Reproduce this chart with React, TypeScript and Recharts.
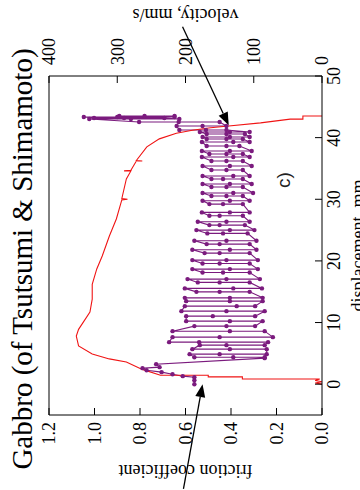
import { ComposedChart, Line, XAxis, YAxis, ReferenceLine, ReferenceDot } from "recharts";

const dispTicks = [0, 10, 20, 30, 40, 50];
const frictionTicks = [0, 0.2, 0.4, 0.6, 0.8, 1.0, 1.2];
const velocityTicks = [0, 100, 200, 300, 400];

// friction coefficient vs displacement (red)
const frictionDisp = [
  0, 0.2, 0.4, 0.6, 0.85, 0.85, 1.18, 1.18, 1.46, 1.46, 2.4, 3.6, 4.1, 4.9, 6.2, 7.8, 8.9, 11.7, 13.8,
  16.2, 18.7, 20.8, 24.0, 26.8, 29.9, 30.0, 30.1, 33.3, 34.6, 34.6, 34.7, 36.2, 36.2, 36.3, 38.5, 39.8,
  40.7, 41.2, 41.6, 41.9, 42.4, 43.0, 43.0, 43.5, 43.5,
];
const frictionValue = [
  0, 0.03, 0.0, 0.03, 0.01, 0.35, 0.35, 0.5, 0.5, 0.71, 0.79, 0.86, 0.935, 1.01, 1.07, 1.08, 1.07, 1.02,
  1.01, 1.01, 0.99, 0.966, 0.935, 0.904, 0.88, 0.855, 0.88, 0.86, 0.84, 0.87, 0.84, 0.816, 0.79, 0.816,
  0.77, 0.715, 0.64, 0.57, 0.49, 0.41, 0.27, 0.14, 0.084, 0.084, 0.0,
];

// velocity: start-up ramp
const rampDisp = [0.0, 0.65, 1.14, 1.3, 1.62, 1.95, 2.27, 2.6, 2.76, 3.25, 4.22];
const rampVel = [187, 187, 187, 204, 219, 235, 257, 263, 238, 243, 84];

// velocity steps: displacement of each jump, its upper, middle and lower velocity
const stepDisp = [
  4.38, 4.87, 5.68, 6.33, 6.82, 7.63, 8.6, 9.42, 10.23, 11.04, 11.85, 12.66, 13.47, 14.01, 14.98, 15.54,
  16.51, 17.05, 18.13, 18.67, 19.59, 20.13, 21.27, 21.8, 22.73, 23.26, 24.46, 25.0, 25.81, 26.35, 27.32,
  27.87, 29.22, 29.76, 30.52, 31.01, 31.98, 32.47, 33.28, 33.77, 34.74, 35.39, 36.2, 36.85, 37.34, 37.82,
  38.64, 39.29, 39.77, 40.1, 40.58, 40.91, 41.23, 41.88, 42.53, 43.02, 43.18, 43.34, 43.5,
];
const stepHigh = [
  187, 194, 190, 179, 224, 219, 219, 187, 199, 199, 206, 201, 199, 201, 184, 201, 182, 197, 175, 190, 175,
  190, 172, 190, 169, 187, 168, 184, 165, 182, 165, 176, 165, 175, 162, 175, 162, 175, 162, 175, 162, 175,
  162, 176, 165, 176, 169, 176, 169, 175, 169, 179, 209, 213, 268, 341, 334, 349, 297,
];
const stepMid = [
  130, 150, 135, 140, 180, 150, 135, 140, 135, 160, 140, 125, 135, 135, 150, 130, 150, 140, 145, 135, 150,
  140, 150, 135, 150, 140, 145, 135, 150, 140, 150, 135, 145, 135, 140, 130, 140, 135, 145, 130, 140, 135,
  140, 130, 140, 135, 140, 130, 140, 135, 140, 135, 170, 175, 210, 280, 290, 300, 260,
];
const stepLow = [
  84, 81, 81, 84, 79, 72, 84, 98, 87, 98, 84, 98, 87, 87, 106, 88, 106, 91, 106, 94, 106, 94, 106, 96, 106,
  96, 109, 99, 113, 106, 116, 106, 116, 106, 116, 101, 116, 103, 116, 106, 116, 103, 116, 106, 116, 103,
  121, 106, 116, 106, 113, 106, 140, 140, 150, 209, 231, 216, 216,
];

// annotation arrows (displacement, friction): tail -> tip
const arrowTail = [[58, 0.613], [-17, 0.609]];
const arrowTip = [[42.0, 0.41], [0.0, 0.525]];

const RED = "#f01414";
const PURPLE = "#7b1b7e";
const SERIF = "'Liberation Serif', 'Times New Roman', Times, 'DejaVu Serif', serif";

const frictionData = frictionDisp.map((d, i) => ({ d, f: frictionValue[i] }));

const velocityData: { d: number; v: number }[] = rampDisp.map((d, i) => ({ d, v: rampVel[i] }));
stepDisp.forEach((d, i) => {
  if (i % 2 === 0) {
    velocityData.push({ d, v: stepLow[i] }, { d, v: stepMid[i] }, { d, v: stepHigh[i] });
  } else {
    velocityData.push({ d, v: stepHigh[i] }, { d, v: stepMid[i] }, { d, v: stepLow[i] });
  }
});

function Arrow(props: any) {
  const { x1, y1, x2, y2 } = props;
  const a = Math.atan2(y2 - y1, x2 - x1);
  const bx = x2 - 13 * Math.cos(a);
  const by = y2 - 13 * Math.sin(a);
  const px = -Math.sin(a) * 5;
  const py = Math.cos(a) * 5;
  return (
    <g>
      <line x1={x1} y1={y1} x2={bx} y2={by} stroke="#000" strokeWidth={1.3} />
      <polygon points={`${x2},${y2} ${bx + px},${by + py} ${bx - px},${by - py}`} fill="#000" />
    </g>
  );
}

const titleStyle = { fontFamily: SERIF, fontSize: 18, fill: "#000" };

const frictionTitle = ({ viewBox }: any) => {
  const cx = viewBox.x + 4;
  const cy = viewBox.y + viewBox.height / 2;
  return (
    <text x={cx} y={cy} transform={`rotate(-90 ${cx} ${cy})`} textAnchor="middle" dominantBaseline="central" style={titleStyle}>
      friction coefficient
    </text>
  );
};

const velocityTitle = ({ viewBox }: any) => {
  const cx = viewBox.x + 61;
  const cy = viewBox.y + viewBox.height / 2;
  return (
    <text x={cx} y={cy} transform={`rotate(-90 ${cx} ${cy})`} textAnchor="middle" dominantBaseline="central" style={titleStyle}>
      velocity, mm/s
    </text>
  );
};

const dispTitle = ({ viewBox }: any) => (
  <text x={viewBox.x + viewBox.width / 2} y={viewBox.y + 42} textAnchor="middle" style={titleStyle}>
    displacement, mm
  </text>
);

const tickStyle = { fontSize: 18, fontFamily: SERIF, fill: "#000" };

export default function App() {
  return (
    <div style={{ position: "absolute", left: 0, top: 0, width: 360, height: 490, overflow: "hidden", background: "#fff" }}>
      <div
        style={{
          position: "absolute",
          left: 0,
          top: 0,
          width: 490,
          height: 360,
          transformOrigin: "0 0",
          transform: "translateY(490px) rotate(-90deg)",
          fontFamily: SERIF,
        }}
      >
        <ComposedChart width={490} height={360} margin={{ top: 39, right: 16, bottom: 8, left: 15 }}>
          <XAxis
            xAxisId="d"
            dataKey="d"
            type="number"
            domain={[-5, 50]}
            allowDataOverflow
            ticks={dispTicks}
            interval={0}
            height={30}
            tickSize={-7}
            tickMargin={12}
            tick={tickStyle}
            axisLine={{ stroke: "#000" }}
            tickLine={{ stroke: "#000" }}
            label={{ content: dispTitle }}
          />
          <XAxis
            xAxisId="top"
            orientation="top"
            type="number"
            domain={[-5, 50]}
            allowDataOverflow
            ticks={dispTicks}
            interval={0}
            height={10}
            tickSize={-7}
            tickFormatter={() => ""}
            axisLine={{ stroke: "#000" }}
            tickLine={{ stroke: "#000" }}
          />
          <YAxis
            yAxisId="f"
            type="number"
            domain={[0, 1.2]}
            allowDataOverflow
            ticks={frictionTicks}
            interval={0}
            width={60}
            tickSize={-7}
            tickMargin={14}
            tick={tickStyle}
            tickFormatter={(v: number) => v.toFixed(1)}
            axisLine={{ stroke: "#000" }}
            tickLine={{ stroke: "#000" }}
            label={{ content: frictionTitle }}
          />
          <YAxis
            yAxisId="v"
            orientation="right"
            type="number"
            domain={[0, 400]}
            allowDataOverflow
            ticks={velocityTicks}
            interval={0}
            width={60}
            tickSize={-7}
            tickMargin={18}
            tick={tickStyle}
            axisLine={{ stroke: "#000" }}
            tickLine={{ stroke: "#000" }}
            label={{ content: velocityTitle }}
          />
          <Line
            xAxisId="d"
            yAxisId="v"
            data={velocityData}
            dataKey="v"
            type="linear"
            stroke={PURPLE}
            strokeWidth={1.1}
            dot={{ r: 2.2, fill: PURPLE, stroke: PURPLE, strokeWidth: 0 }}
            isAnimationActive={false}
          />
          <Line
            xAxisId="d"
            yAxisId="f"
            data={frictionData}
            dataKey="f"
            type="linear"
            stroke={RED}
            strokeWidth={1.1}
            dot={false}
            isAnimationActive={false}
          />
          {arrowTail.map((t, i) => (
            <ReferenceLine
              key={i}
              xAxisId="d"
              yAxisId="f"
              segment={[
                { x: t[0], y: t[1] },
                { x: arrowTip[i][0], y: arrowTip[i][1] },
              ]}
              ifOverflow="visible"
              shape={Arrow}
            />
          ))}
          <ReferenceDot
            xAxisId="d"
            yAxisId="f"
            x={33.1}
            y={0.17}
            r={1}
            fill="none"
            stroke="none"
            ifOverflow="visible"
            label={{ value: "c)", position: "center", fontSize: 19, fontFamily: "'Liberation Sans', Arial, sans-serif", fill: "#222" }}
          />
        </ComposedChart>
        <svg width={490} height={360} style={{ position: "absolute", left: 0, top: 0, pointerEvents: "none" }}>
          <text x={231} y={32} textAnchor="middle" style={{ fontFamily: SERIF, fontSize: 29, fill: "#000" }}>
            Gabbro (of Tsutsumi &amp; Shimamoto)
          </text>
        </svg>
      </div>
    </div>
  );
}
